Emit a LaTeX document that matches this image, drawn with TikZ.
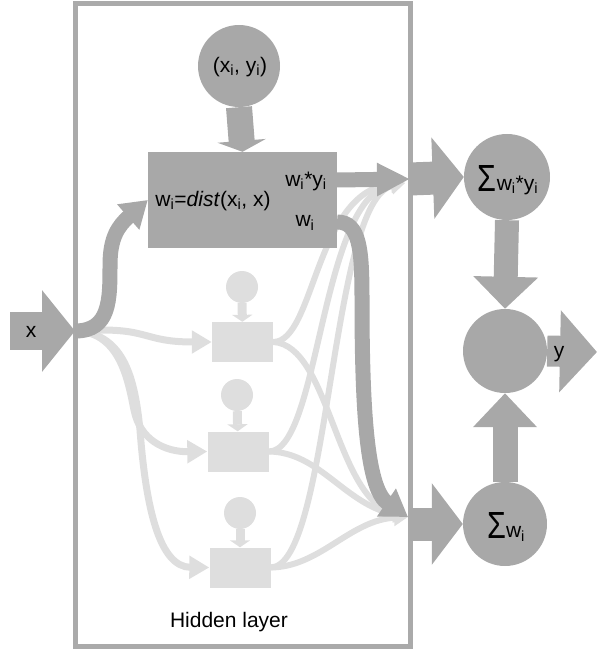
\documentclass[tikz,border=0pt]{standalone}
\usepackage{fontspec}
\setmainfont{Liberation Sans}
\usetikzlibrary{arrows.meta}
\definecolor{dk}{RGB}{168,168,168}
\definecolor{lt}{RGB}{222,222,222}
\definecolor{bd}{RGB}{170,170,170}
\newcommand{\bigsig}{\raisebox{-1pt}{\scalebox{0.85}[1.05]{\fontsize{36}{36}\selectfont Σ}}}
\begin{document}
\begin{tikzpicture}[x=1pt,y=-1pt,
  txt/.style={font=\fontsize{21}{25}\selectfont, text=black, inner sep=0pt},
  dcirc/.style={circle, fill=dk, inner sep=0pt, minimum size=#1},
  lcirc/.style={circle, fill=lt, inner sep=0pt, minimum size=32pt},
  lbox/.style={rectangle, fill=lt, inner sep=0pt, minimum width=61pt, minimum height=40pt},
  dbox/.style={rectangle, fill=dk, inner sep=0pt, minimum width=189pt, minimum height=96pt},
  lin/.style={draw=lt, line width=7pt, -{Triangle[width=22pt,length=20pt]}},
  lout/.style={draw=lt, line width=6pt, -{Triangle[width=16pt,length=14pt]}},
  ldown/.style={draw=lt, line width=9pt, -{Triangle[width=20pt,length=7pt]}},
  dcurve/.style={draw=dk, line width=15pt, -{Triangle[width=32pt,length=26pt]}},
  bigarr/.style={draw=dk, line width=33pt, -{Triangle[width=80pt,length=31pt]}}
]
\path[use as bounding box] (0,0) rectangle (597,652);
% hidden layer frame
\draw[draw=bd, line width=5pt] (75,4) rectangle (410,646);
\node[txt] (hl) at (229,622) {Hidden layer};

% coordinates
\coordinate (jn) at (78,331);
\coordinate (xs) at (10,331);
\coordinate (xt) at (75,331);
\coordinate (wyo) at (337,180);
\coordinate (tm) at (410,179);
\coordinate (wo) at (337,222);
\coordinate (bmi) at (408,517);
\coordinate (bm) at (410,524);
\coordinate (tmi) at (405,183);
\coordinate (yout) at (597,352);

% light sub-units
\node[lcirc] (c1) at (242,287) {};
\node[lbox] (b1) at (242.5,342) {};
\node[lcirc] (c2) at (237,395) {};
\node[lbox] (b2) at (238,451.5) {};
\node[lcirc] (c3) at (240,513) {};
\node[lbox] (b3) at (240,567.5) {};
\draw[ldown] (c1) -- (b1);
\draw[ldown] (c2) -- (b2);
\draw[ldown] (c3) -- (b3);

% light input curves
\draw[lin] (jn) .. controls (150,326) and (140,342) .. (b1.west);
\draw[lin] (jn) .. controls (120,334) and (128,380) .. (134,410) .. controls (140,440) and (165,452) .. (b2.west);
\draw[lin] (jn) .. controls (125,335) and (135,380) .. (140,430) .. controls (146,510) and (160,567) .. (b3.west);

% light output curves
\draw[lout] (b1.east) .. controls (315,342) and (315,190) .. (tmi);
\draw[lout] (b1.east) .. controls (330,345) and (335,500) .. (bmi);
\draw[lout] (b2.east) .. controls (320,452) and (320,195) .. (tmi);
\draw[lout] (b2.east) .. controls (320,452) and (345,505) .. (bmi);
\draw[lout] (b3.east) .. controls (330,567) and (330,200) .. (tmi);
\draw[lout] (b3.east) .. controls (320,567) and (350,520) .. (bmi);

% input x
\draw[draw=dk, line width=38pt, -{Triangle[width=80pt,length=33pt]}] (xs) -- (xt);
\node[txt] (xl) at (31,332) {x};

% main unit
\node[dcirc=82pt] (pair) at (239,66) {};
\node[txt] (pl) at (240,67) {(x\textsubscript{i}, y\textsubscript{i})};
\node[dbox] (main) at (242.5,200) {};
\draw[draw=dk, line width=26pt, -{Triangle[width=48pt,length=11pt]}] (pair.south) -- (main.north);
\node[txt] (t1) at (213,201) {w\textsubscript{i}=\textit{dist}(x\textsubscript{i}, x)};
\node[txt] (t2) at (306,181) {w\textsubscript{i}*y\textsubscript{i}};
\node[txt] (t3) at (305,223) {w\textsubscript{i}};

% dark curves
\draw[dcurve] (xt) .. controls (110,331) and (110,300) .. (110,265) .. controls (110,238) and (118,226) .. (main.west);
\draw[dcurve] (wo) .. controls (360,222) and (362,250) .. (362,300) .. controls (362,420) and (368,490) .. (bmi);
\draw[draw=dk, line width=15pt, -{Triangle[width=31pt,length=33pt]}] (wyo) -- (tm);

% output side
\node[dcirc=86pt] (sum1) at (507,177) {};
\node[dcirc=84pt] (mid) at (505,351) {};
\node[dcirc=84pt] (sum2) at (505,524) {};
\draw[bigarr] (tm) -- (sum1.west);
\draw[bigarr] (bm) -- (sum2.west);
\draw[draw=dk, line width=24pt, -{Triangle[width=63pt,length=32pt]}] (sum1.south) -- (mid.north);
\draw[draw=dk, line width=25pt, -{Triangle[width=62pt,length=34pt]}] (sum2.north) -- (mid.south);
\draw[draw=dk, line width=31pt, -{Triangle[width=80pt,length=37pt]}] (mid.east) -- (yout);
\node[txt] (s1l) at (508,180) {\bigsig w\textsubscript{i}*y\textsubscript{i}};
\node[txt] (s2l) at (506,527) {\bigsig w\textsubscript{i}};
\node[txt] (yl) at (559,354) {y};
\end{tikzpicture}
\end{document}
